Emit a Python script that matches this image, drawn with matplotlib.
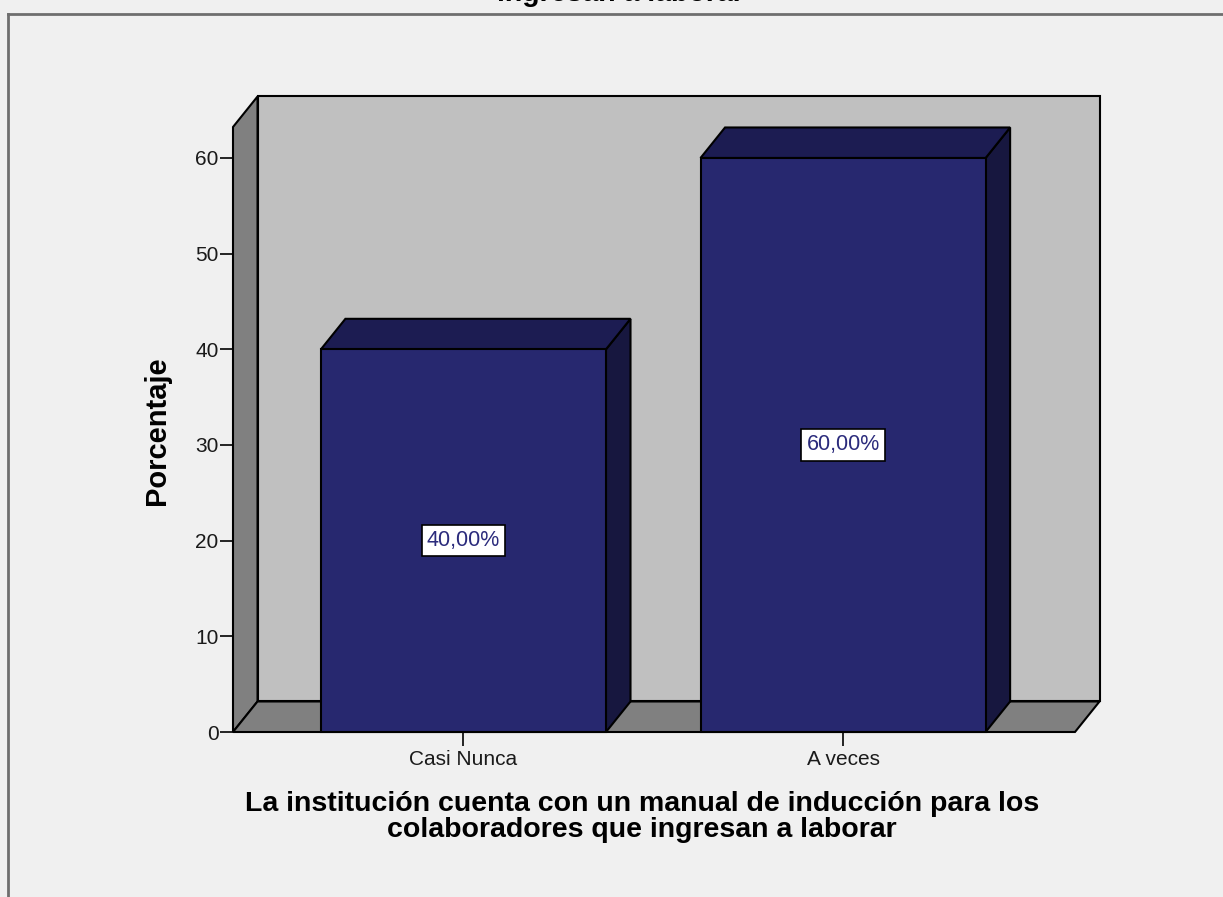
import matplotlib.pyplot as plt
from matplotlib.patches import Polygon

categories = ["Casi Nunca", "A veces"]
percentages = [40.0, 60.0]
yticks = [0, 10, 20, 30, 40, 50, 60]
title = "ingresan a laborar"
xlabel = "La institución cuenta con un manual de inducción para los\ncolaboradores que ingresan a laborar"
ylabel = "Porcentaje"

W, H = 1223, 897
plt.rcParams["font.family"] = ["Liberation Sans", "DejaVu Sans"]

fig = plt.figure(figsize=(W / 100, H / 100), dpi=100)
fig.patch.set_facecolor("#f0f0f0")

# front plane of the 3d box, in pixels
left, right, bottom, top = 233, 1075, 732, 127
ax = fig.add_axes([left / W, 1 - bottom / H, (right - left) / W, (bottom - top) / H])
ax.set_facecolor("none")
for s in ax.spines.values():
    s.set_visible(False)

x0, x1 = -0.607, 1.611
ymax = 63.24
ax.set_xlim(x0, x1)
ax.set_ylim(0, ymax)

# depth offset of the box (data units)
dx, dy = 0.0646, 3.19
lw = 1.5
edge = "black"

def poly(pts, fc, z):
    p = Polygon(pts, closed=True, facecolor=fc, edgecolor=edge, lw=lw,
                clip_on=False, zorder=z, joinstyle="miter")
    ax.add_patch(p)

# back wall, left wall, floor
poly([(x0 + dx, dy), (x1 + dx, dy), (x1 + dx, ymax + dy), (x0 + dx, ymax + dy)], "#c0c0c0", 1)
poly([(x0, 0), (x0 + dx, dy), (x0 + dx, ymax + dy), (x0, ymax)], "#808080", 2)
poly([(x0, 0), (x1, 0), (x1 + dx, dy), (x0 + dx, dy)], "#808080", 2)

bw = 0.751
for i, v in enumerate(percentages):
    a, b = i - bw / 2, i + bw / 2
    poly([(b, 0), (b + dx, dy), (b + dx, v + dy), (b, v)], "#17173f", 3)
    poly([(a, v), (b, v), (b + dx, v + dy), (a + dx, v + dy)], "#1c1c52", 3)
    poly([(a, 0), (b, 0), (b, v), (a, v)], "#27286f", 4)
    ax.text(i, v / 2, f"{v:.2f}%".replace(".", ","), ha="center", va="center",
            fontsize=15.5, color="#2b2b7c", zorder=6,
            bbox=dict(boxstyle="square,pad=0.24", facecolor="white",
                      edgecolor="black", lw=1.2))

ax.set_yticks(yticks)
ax.set_xticks(range(len(categories)))
ax.set_xticklabels(categories)
ax.tick_params(axis="y", direction="out", length=9.5, width=1.2, pad=1,
               labelsize=15, colors="black", labelcolor="#1a1a1a")
ax.tick_params(axis="x", direction="out", length=10, width=1.2, pad=3,
               labelsize=15, colors="black", labelcolor="#1a1a1a")
for t in ax.get_xticklines() + ax.get_yticklines():
    t.set_zorder(5)

fig.text(157 / W, 1 - 431 / H, ylabel, rotation=90, ha="center", va="center",
         fontsize=21, fontweight="bold")
fig.text(642 / W, 1 - 817 / H, xlabel, ha="center", va="center",
         fontsize=20.5, fontweight="bold", linespacing=1.02)
# title sits mostly above the visible area
fig.text(620 / W, 1 - 1 / H, title, ha="center", va="baseline",
         fontsize=20.5, fontweight="bold")

# outer frame of the chart area
fig.add_artist(plt.Line2D([8 / W, 1], [1 - 14 / H, 1 - 14 / H], color="#6e6e6e", lw=2))
fig.add_artist(plt.Line2D([8 / W, 8 / W], [0, 1 - 14 / H], color="#6e6e6e", lw=2))

fig.savefig("out.png", dpi=100, facecolor=fig.get_facecolor())
